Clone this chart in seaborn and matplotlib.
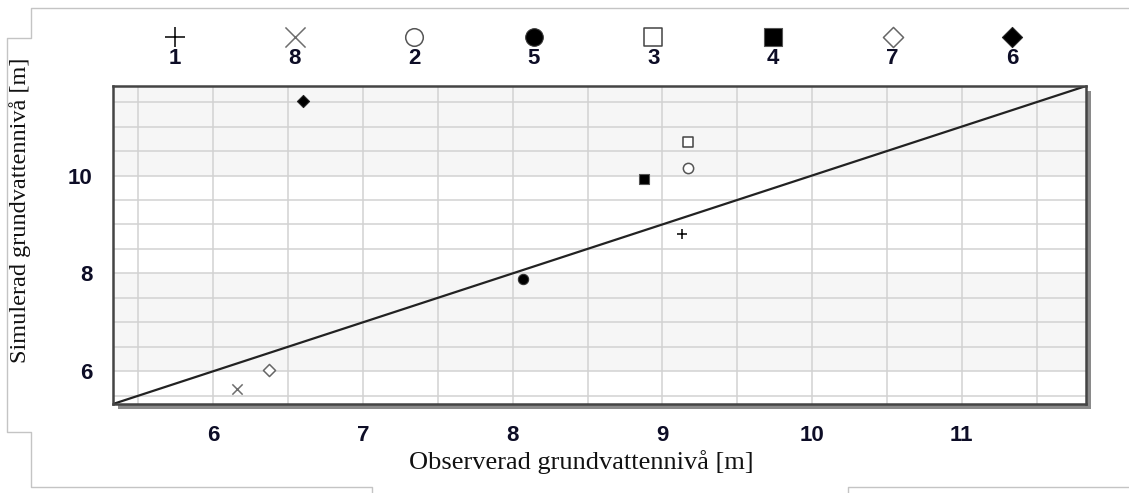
import numpy as np
import pandas as pd
import matplotlib
matplotlib.use("Agg")
import matplotlib.pyplot as plt
from matplotlib.lines import Line2D
from matplotlib.patches import Rectangle
from matplotlib.ticker import MultipleLocator
import seaborn as sns

# ---- data ----
point_ids = ["1", "8", "2", "5", "3", "4", "7", "6"]
observed = [9.13, 6.16, 9.17, 8.07, 9.17, 8.88, 6.37, 6.60]
simulated = [8.80, 5.63, 10.16, 7.88, 10.69, 9.92, 6.02, 11.53]
x_ticks = [6, 7, 8, 9, 10, 11]
y_ticks = [6, 8, 10]
axis_min, axis_max = 5.33, 11.83

df = pd.DataFrame({"id": point_ids, "obs": observed, "sim": simulated})

# ---- styles ----
style = {
    "1": dict(marker="+", fc="black", ec="black", lw=1.1),
    "8": dict(marker="x", fc="#6e6e6e", ec="#6e6e6e", lw=1.1),
    "2": dict(marker="o", fc="white", ec="#555555", lw=1.1),
    "5": dict(marker="o", fc="black", ec="#333333", lw=0.8),
    "3": dict(marker="s", fc="white", ec="#444444", lw=1.1),
    "4": dict(marker="s", fc="black", ec="#555555", lw=0.8),
    "7": dict(marker="D", fc="white", ec="#666666", lw=1.1),
    "6": dict(marker="D", fc="black", ec="#222222", lw=0.8),
}

sns.set_theme(style="white")
plt.rcParams["font.family"] = ["Liberation Sans", "DejaVu Sans"]

W, H = 1129, 493
fig = plt.figure(figsize=(W / 100, H / 100), dpi=100)
fig.patch.set_facecolor("white")

L, R, T, B = 113, 1086, 86, 404
ax = fig.add_axes([L / W, 1 - B / H, (R - L) / W, (B - T) / H])

# shadow behind plot frame
fig.add_artist(Rectangle(((L + 5) / W, 1 - (B + 5) / H), (R - L) / W, (B - T) / H,
                         transform=fig.transFigure, facecolor="#8a8a8a",
                         edgecolor="none", zorder=-1))

ax.set_xlim(axis_min, axis_max)
ax.set_ylim(axis_min, axis_max)

# alternating bands
for lo in [6, 10]:
    ax.axhspan(lo, lo + 2, color="#f6f6f6", zorder=0, lw=0)

ax.xaxis.set_minor_locator(MultipleLocator(0.5))
ax.yaxis.set_minor_locator(MultipleLocator(0.5))
ax.set_xticks(x_ticks)
ax.set_yticks(y_ticks)
ax.grid(True, which="both", color="#d2d2d2", lw=1.1, zorder=0.5)
ax.set_axisbelow(True)

# 1:1 line
ax.axline((axis_min, axis_min), slope=1, color="#222222", lw=1.6, zorder=2)

for _, row in df.iterrows():
    st = style[row["id"]]
    sns.scatterplot(data=df[df["id"] == row["id"]], x="obs", y="sim", ax=ax,
                    marker=st["marker"], s=55 if st["marker"] != "D" else 38,
                    color=st["fc"], edgecolor=st["ec"] if st["marker"] not in "+x" else None,
                    linewidth=st["lw"], zorder=3, legend=False)

for sp in ax.spines.values():
    sp.set_color("#444444")
    sp.set_linewidth(1.8)

ax.tick_params(axis="both", which="major", length=10, width=1.2, color="#444444",
               direction="out", labelsize=16, labelcolor="#0d0d26", pad=5)
ax.tick_params(axis="both", which="minor", length=0)
for lab in ax.get_xticklabels() + ax.get_yticklabels():
    lab.set_fontweight("bold")

ax.set_xlabel("Observerad grundvattennivå [m]", family=["Liberation Serif"], fontsize=19,
              color="#111111")
ax.set_ylabel("Simulerad grundvattennivå [m]", family=["Liberation Serif"], fontsize=17.5,
              color="#111111")
ax.xaxis.set_label_coords((581 - L) / (R - L), -(450 - B) / (B - T))
ax.yaxis.set_label_coords((31 - L) / (R - L), 1 - (210 - T) / (B - T))

# ---- legend row ----
lx0, lx1 = 115.2, 1072.0
ax_leg = fig.add_axes([lx0 / W, 1 - 72 / H, (lx1 - lx0) / W, (72 - 22) / H])
ax_leg.set_xlim(-0.5, len(point_ids) - 0.5)
ax_leg.set_ylim(0, 1)
ax_leg.axis("off")
for i, pid in enumerate(point_ids):
    st = style[pid]
    size = 210 if st["marker"] in "+x" else (160 if st["marker"] != "D" else 105)
    ax_leg.scatter([i], [0.7], marker=st["marker"], s=size,
                   c=st["fc"],
                   edgecolors=None if st["marker"] in "+x" else st["ec"],
                   linewidths=st["lw"])
    ax_leg.text(i, 0.27, pid, ha="center", va="center", fontsize=16,
                fontweight="bold", color="#0d0d26")

# ---- outer frame lines ----
def fline(xs, ys):
    fig.add_artist(Line2D([x / W for x in xs], [1 - y / H for y in ys],
                          transform=fig.transFigure, color="#c4c4c4", lw=1.0))

fline([1129, 31, 31, 7, 7, 31, 31, 372, 372], [8, 8, 38, 38, 432, 432, 487, 487, 493])
fline([848, 848, 1129], [493, 487, 487])

fig.savefig("out.png", dpi=100, facecolor="white")
